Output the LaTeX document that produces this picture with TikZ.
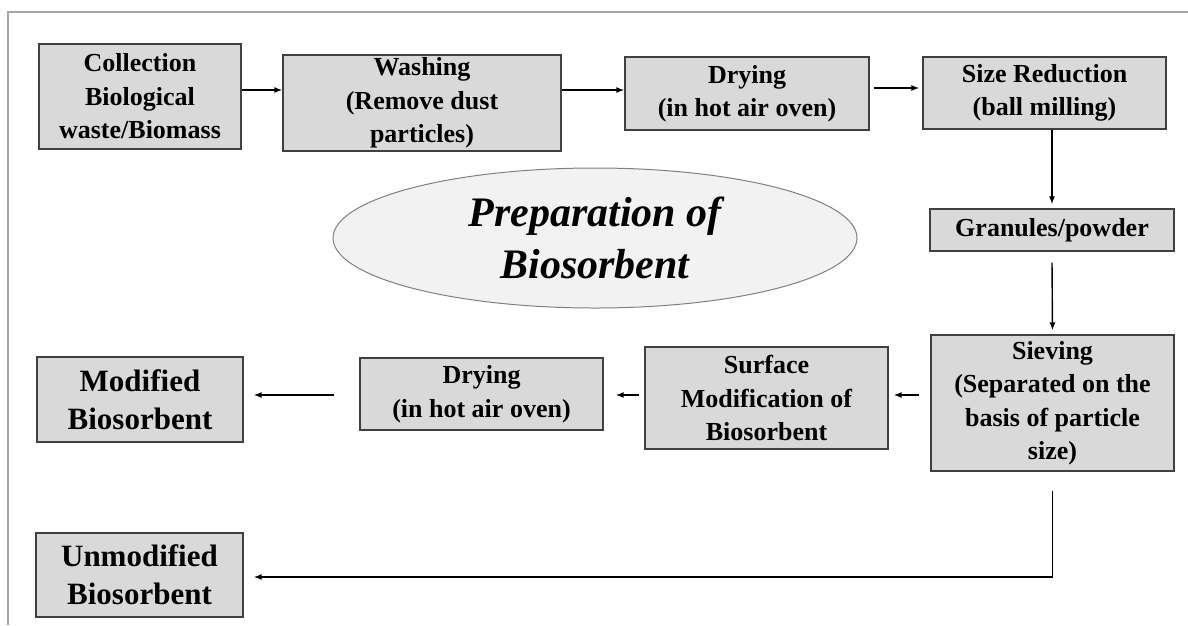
\documentclass[tikz,border=0pt]{standalone}
\usepackage{fontspec}
\setmainfont{Liberation Serif}
\usetikzlibrary{positioning, shapes.geometric, arrows.meta}

\definecolor{boxfill}{HTML}{D9D9D9}
\definecolor{boxline}{HTML}{404040}
\definecolor{ovalfill}{HTML}{F2F2F2}
\definecolor{frameline}{HTML}{A6A6A6}

\tikzset{
    stage/.style={draw=boxline, fill=boxfill, line width=1.3pt, align=center,
        inner sep=0pt, font=\bfseries\fontsize{26}{33.5}\selectfont},
    result/.style={stage, font=\bfseries\fontsize{31}{38}\selectfont},
    flow/.style={-{Latex[length=8pt,width=6pt]}, line width=1.4pt},
}

\begin{document}
\begin{tikzpicture}[x=1pt, y=-1pt]

        \useasboundingbox (0,0) rectangle (1188,625);
        \draw[frameline, line width=1.5pt] (1188,12) -- (8,12) -- (8,625);

        % top row
        \node[stage, minimum width=202pt, minimum height=105pt] (collect) at (140,96.5)
            {Collection\\Biological\\waste/Biomass};
        \node[stage, minimum width=278pt, minimum height=96pt] (wash) at (422,103)
            {Washing\\(Remove dust\\particles)};
        \node[stage, minimum width=244pt, minimum height=73pt] (dry) at (747,93.5)
            {Drying\\(in hot air oven)};
        \node[stage, minimum width=243pt, minimum height=72pt] (size) at (1044.5,93)
            {Size Reduction\\(ball milling)};

        % right column
        \node[stage, minimum width=244pt, minimum height=42pt] (gran) at (1052,230)
            {Granules/powder};
        \node[stage, minimum width=243pt, minimum height=136pt] (sieve) at (1052.5,403)
            {Sieving\\(Separated on the\\basis of particle\\size)};

        % middle row
        \node[stage, minimum width=243pt, minimum height=102pt] (surf) at (766.5,398)
            {Surface\\Modification of\\Biosorbent};
        \node[stage, minimum width=243pt, minimum height=72pt] (drytwo) at (481.5,394)
            {Drying\\(in hot air oven)};
        \node[result, minimum width=206pt, minimum height=85pt] (modif) at (140,399.5)
            {Modified\\Biosorbent};
        \node[result, minimum width=207pt, minimum height=84pt] (unmod) at (139.5,575)
            {Unmodified\\Biosorbent};

        \node[ellipse, draw=gray, fill=ovalfill, line width=1pt, inner sep=0pt,
            minimum width=524pt, minimum height=140pt, align=center,
            font=\bfseries\itshape\fontsize{42}{52}\selectfont] (title) at (595,238)
            {Preparation of\\Biosorbent};

        \draw[flow] (collect.east |- 0,90) -- (wash.west |- 0,90);
        \draw[flow] (wash.east |- 0,90) -- (dry.west |- 0,90);
        \draw[flow] ([xshift=4pt]dry.east |- 0,88) -- ([xshift=-3pt]size.west |- 0,88);
        \draw[flow] (gran.north |- size.south) -- ([yshift=4pt]gran.north);
        \draw[flow] ([yshift=-11pt]gran.south) -- ([yshift=4pt]sieve.north);
        \draw[flow] ([xshift=-11pt]sieve.west |- 0,395) -- ([xshift=5pt]surf.east |- 0,395);
        \draw[flow] ([xshift=-5pt]surf.west |- 0,395) -- ([xshift=12pt]drytwo.east |- 0,395);
        \draw[flow] ([xshift=-25pt]drytwo.west |- 0,395) -- ([xshift=10pt]modif.east |- 0,395);
        \draw[flow] ([yshift=-19pt]sieve.south) -- (sieve.south |- 0,577)
            -- ([xshift=10pt]unmod.east |- 0,577);

\end{tikzpicture}
\end{document}
